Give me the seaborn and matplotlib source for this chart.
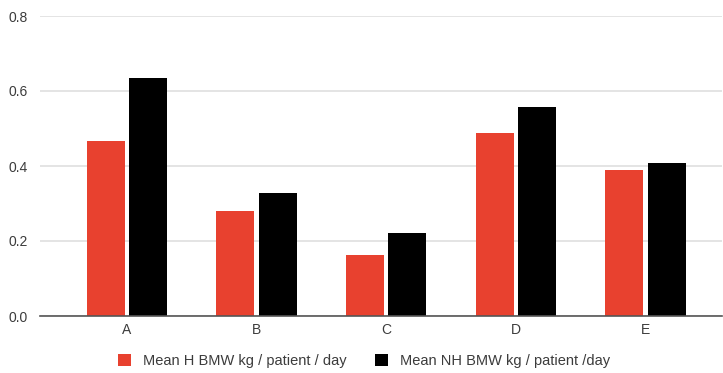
import matplotlib
matplotlib.use("Agg")
import matplotlib.pyplot as plt
import seaborn as sns
import pandas as pd
from matplotlib.patches import Patch

categories = ["A", "B", "C", "D", "E"]
series_names = ["Mean H BMW kg / patient / day", "Mean NH BMW kg / patient /day"]
mean_h = [0.467, 0.280, 0.163, 0.487, 0.389]
mean_nh = [0.635, 0.328, 0.221, 0.558, 0.409]
y_ticks = [0.0, 0.2, 0.4, 0.6, 0.8]
colors = ["#e8412f", "#000000"]

df = pd.DataFrame({
    "category": categories * 2,
    "series": [series_names[0]] * len(categories) + [series_names[1]] * len(categories),
    "value": mean_h + mean_nh,
})

sns.set_theme(style="white")
plt.rcParams["font.family"] = ["Liberation Sans", "DejaVu Sans"]

fig = plt.figure(figsize=(7.23, 3.73), dpi=100)
ax = fig.add_axes([40 / 723, (373 - 316) / 373, 682 / 723, 300 / 373])

sns.barplot(data=df, x="category", y="value", hue="series", palette=colors,
            width=0.65, gap=0.1, ax=ax, legend=False, saturation=1,
            edgecolor="none", linewidth=0)

ax.set_ylim(0, 0.8)
ax.set_xlim(-0.67, 4.59)
ax.set_yticks(y_ticks)
ax.set_yticklabels([f"{t:.1f}" for t in y_ticks])
ax.set_xlabel("")
ax.set_ylabel("")
ax.grid(axis="y", color="#e2e2e2", linewidth=1.3)
ax.set_axisbelow(True)
for s in ["top", "right", "left"]:
    ax.spines[s].set_visible(False)
ax.spines["bottom"].set_color("#555555")
ax.spines["bottom"].set_linewidth(1.2)
ax.tick_params(axis="both", length=0, labelsize=10, colors="#3c3c3c")
ax.tick_params(axis="y", pad=9)
ax.tick_params(axis="x", pad=5)

handles = [Patch(facecolor=c, edgecolor="none") for c in colors]
fig.legend(handles, series_names, loc="center", bbox_to_anchor=(364 / 723, 1 - 361 / 373),
           ncol=2, frameon=False, fontsize=10.5, handlelength=0.9, handleheight=0.9,
           columnspacing=2.0, handletextpad=0.8, labelcolor="#3c3c3c")

fig.savefig("out.png", dpi=100)
